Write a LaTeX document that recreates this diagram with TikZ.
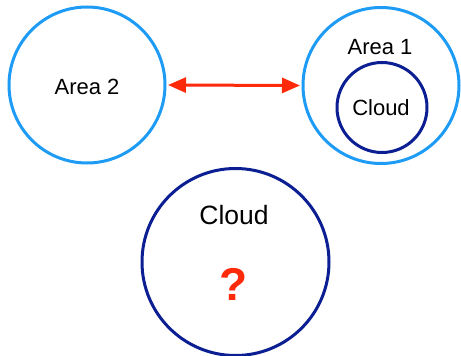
\documentclass[tikz,border=0pt]{standalone}
\usepackage{fontspec}
\setmainfont{Liberation Sans}
\usetikzlibrary{arrows.meta}
\definecolor{areablue}{HTML}{1E9CF5}
\definecolor{cloudblue}{HTML}{0B1F93}
\definecolor{linkred}{HTML}{FF2A0A}
\begin{document}
\begin{tikzpicture}[x=1pt,y=-1pt,
  area/.style={circle,draw=areablue,line width=3pt,inner sep=0pt},
  cloud/.style={circle,draw=cloudblue,line width=3pt,inner sep=0pt},
  label/.style={font=\fontsize{22}{24}\selectfont,inner sep=0pt},
  link/.style={draw=linkred,line width=3pt,
    {Triangle[length=18pt,width=15pt]}-{Triangle[length=18pt,width=15pt]}}]
  \useasboundingbox (0,0) rectangle (461,356);
  % the two areas
  \node[area,minimum size=156pt] (a2) at (87,85) {};
  \node[label] (a2t) at (87,87) {Area 2};
  \node[area,minimum size=156pt] (a1) at (381,85.5) {};
  \node[label] (a1t) at (380,47) {Area 1};
  % cloud inside area 1
  \node[cloud,minimum size=90pt] (c1) at (382,107.5) {};
  \node[label] (c1t) at (381,108) {Cloud};
  % link between the areas
  \draw[link,shorten <=1.5pt,shorten >=1.5pt] (a2.east) -- (a1.west);
  % the unknown cloud
  \node[cloud,minimum size=187pt] (c2) at (235.5,262) {};
  \node[font=\fontsize{26.5}{28}\selectfont,inner sep=0pt] (c2t) at (234,215) {Cloud};
  \node[font=\bfseries\fontsize{46}{48}\selectfont,text=linkred,inner sep=0pt] (q) at (234,284) {?};
\end{tikzpicture}
\end{document}
